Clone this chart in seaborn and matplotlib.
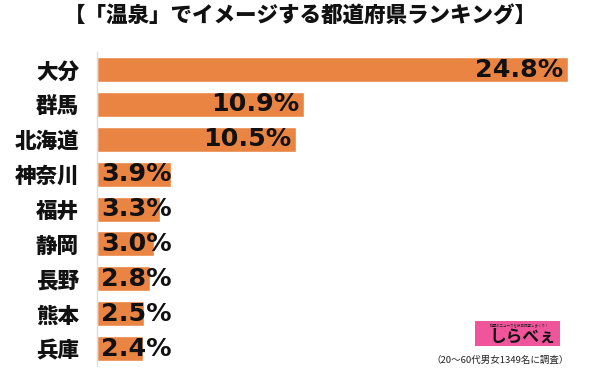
import matplotlib
matplotlib.use("Agg")
import matplotlib.pyplot as plt
from matplotlib.patches import Rectangle
import seaborn as sns

sns.set_theme(style="white")
plt.rcParams["font.family"] = ["Noto Sans CJK JP", "DejaVu Sans"]

prefectures = ["大分", "群馬", "北海道", "神奈川", "福井", "静岡", "長野", "熊本", "兵庫"]
shares = [24.8, 10.9, 10.5, 3.9, 3.3, 3.0, 2.8, 2.5, 2.4]
title = "【「温泉」でイメージする都道府県ランキング】"
note = "（20～60代男女1349名に調査）"

bar_color = "#EA8443"

fig = plt.figure(figsize=(6, 3.68), dpi=100)
ax = fig.add_axes([0.1617, 0.0054, 0.788, 0.853])

sns.barplot(x=shares, y=prefectures, color=bar_color, width=0.72,
            saturation=1, orient="h", ax=ax)

ax.set_xlim(0, 24.9)
ax.set_ylim(8.5, -0.5)
ax.set_xlabel("")
ax.set_ylabel("")
ax.set_xticks([])
for side in ["top", "right", "bottom"]:
    ax.spines[side].set_visible(False)
ax.spines["left"].set_color("#dddddd")
ax.spines["left"].set_linewidth(1)

ax.tick_params(axis="y", length=0, pad=13)
for lab in ax.get_yticklabels():
    lab.set_fontsize(15.5)
    lab.set_fontweight("heavy")
    lab.set_color("#111111")

# value labels: inside right end for long bars, from the start for short ones
for i, v in enumerate(shares):
    txt = f"{v}%"
    if v > 8:
        ax.text(v - 0.25, i, txt, ha="right", va="center", fontsize=18.3,
                fontweight="bold", family="DejaVu Sans", color="#111111")
    else:
        ax.text(0.2, i, txt, ha="left", va="center", fontsize=18.3,
                fontweight="bold", family="DejaVu Sans", color="#111111")

fig.text(0.5, 0.955, title, ha="center", va="center", fontsize=15.5,
         fontweight="heavy", color="#111111")

# logo box
fig.patches.append(Rectangle((475 / 600, 1 - 346 / 368), 85 / 600, 25 / 368,
                             transform=fig.transFigure, facecolor="#F0559C",
                             edgecolor="none"))
fig.text(520 / 600, 1 - 325 / 368, "話題のニュースを独自調査しまくり！",
         ha="center", va="center", fontsize=2.5, color="#222222")
fig.text(523 / 600, 1 - 337 / 368, "しらべぇ", ha="center", va="center",
         fontsize=12, fontweight="bold", color="#111111")
fig.text(500 / 600, 1 - 360 / 368, note, ha="center", va="center",
         fontsize=6.8, color="#222222")

fig.savefig("out.png", dpi=100)
